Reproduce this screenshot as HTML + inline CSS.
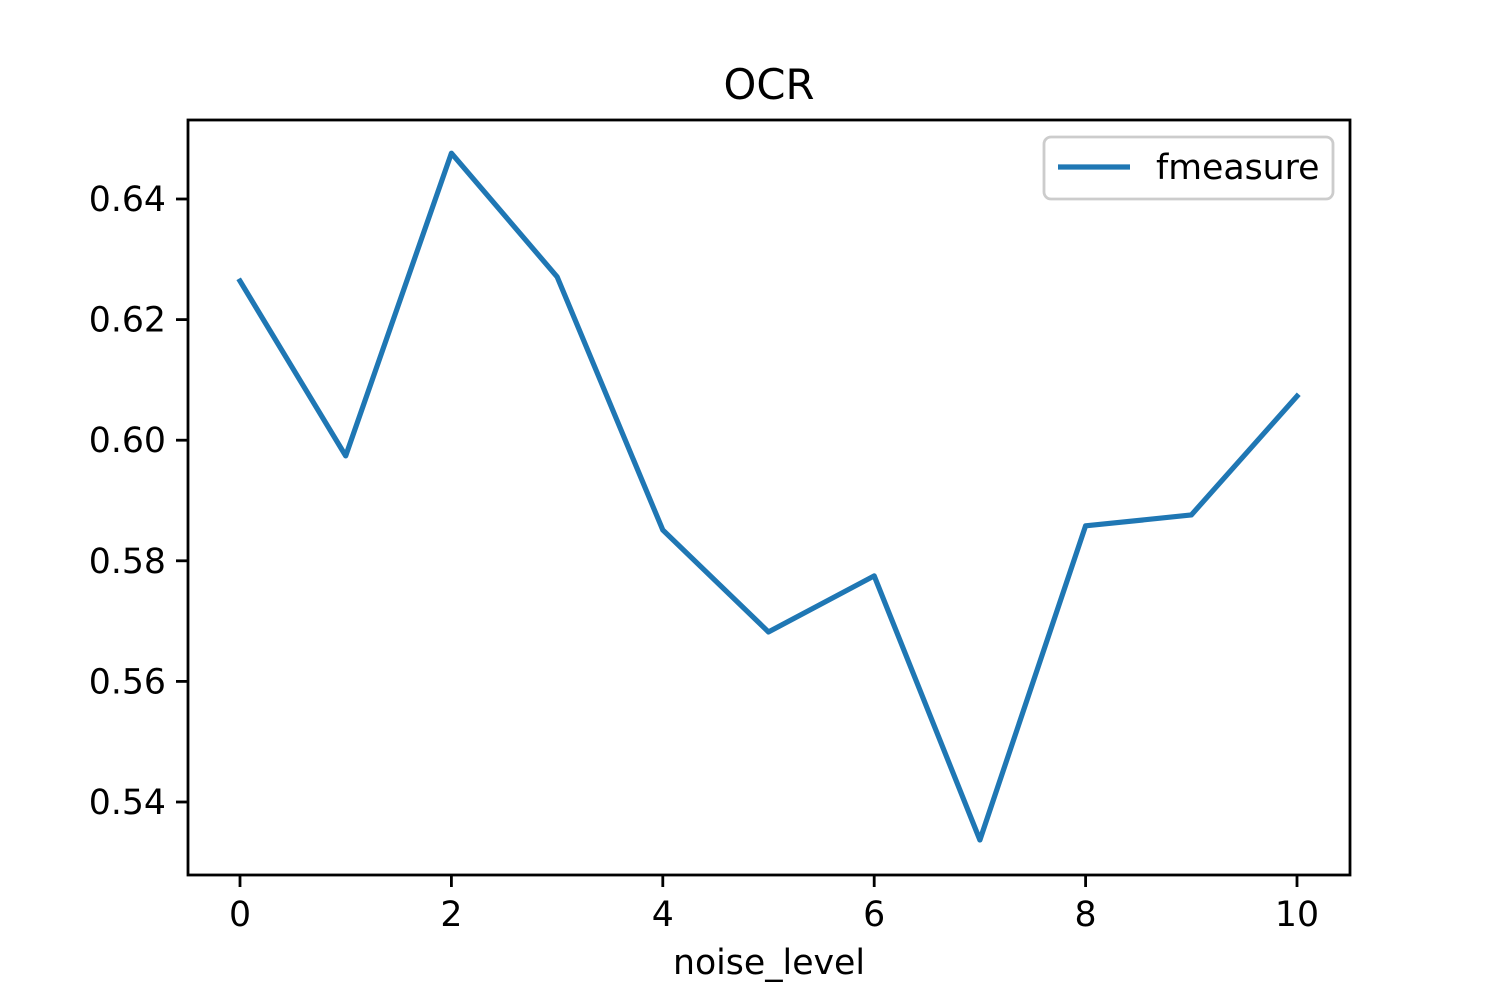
<!DOCTYPE html>
<html><head><meta charset="utf-8"><style>
html,body{margin:0;padding:0;background:#fff;}
svg text{font-family:"DejaVu Sans","Liberation Sans",sans-serif;fill:#000;}
</style></head><body>
<svg id="chart" width="1500" height="1000" viewBox="0 0 1500 1000">
<rect x="0" y="0" width="1500" height="1000" fill="#fff"/>
<g id="ticks"></g>
<path id="series" fill="none" stroke="#1f77b4" stroke-width="5.2" stroke-linejoin="round" stroke-linecap="square"/>
<rect x="188" y="120" width="1162" height="755" fill="none" stroke="#000" stroke-width="2.8"/>
<text x="769" y="99" font-size="41.7" text-anchor="middle">OCR</text>
<text x="769" y="974" font-size="34.7" text-anchor="middle">noise_level</text>
<g>
<rect x="1044" y="137" width="289" height="62" rx="7" fill="#fff" fill-opacity="0.8" stroke="#ccc" stroke-width="2.8"/>
<line x1="1058" y1="167" x2="1130" y2="167" stroke="#1f77b4" stroke-width="5.2"/>
<text x="1156" y="179" font-size="34.7">fmeasure</text>
</g>
</svg>
<script>
const xValues=[0,1,2,3,4,5,6,7,8,9,10];
const fmeasure=[0.6264,0.5974,0.6476,0.6271,0.5851,0.5682,0.5775,0.5337,0.5858,0.5876,0.6073];
const xTicks=[0,2,4,6,8,10];
const yTicks=[0.54,0.56,0.58,0.60,0.62,0.64];
const yTickLabels=["0.54","0.56","0.58","0.60","0.62","0.64"];
function xs(v){return 240+v*105.7;}
function ys(v){return 802-(v-0.54)/0.02*120.6;}
const NS="http://www.w3.org/2000/svg";
const g=document.getElementById('ticks');
xTicks.forEach(t=>{
 const l=document.createElementNS(NS,'line');
 l.setAttribute('x1',xs(t));l.setAttribute('x2',xs(t));l.setAttribute('y1',875);l.setAttribute('y2',887);
 l.setAttribute('stroke','#000');l.setAttribute('stroke-width','2.8');
 
 
 g.appendChild(l);
 const tx=document.createElementNS(NS,'text');
 tx.setAttribute('x',xs(t));tx.setAttribute('y',926);tx.setAttribute('font-size','34.7');tx.setAttribute('text-anchor','middle');
 tx.textContent=String(t);
 
 
 g.appendChild(tx);
});
yTicks.forEach((t,i)=>{
 const l=document.createElementNS(NS,'line');
 l.setAttribute('x1',176);l.setAttribute('x2',188);l.setAttribute('y1',ys(t));l.setAttribute('y2',ys(t));
 l.setAttribute('stroke','#000');l.setAttribute('stroke-width','2.8');
 
 
 g.appendChild(l);
 const tx=document.createElementNS(NS,'text');
 tx.setAttribute('x',166);tx.setAttribute('y',ys(t)+12);tx.setAttribute('font-size','34.7');tx.setAttribute('text-anchor','end');
 tx.textContent=yTickLabels[i];
 
 
 g.appendChild(tx);
});
document.getElementById('series').setAttribute('d',fmeasure.map((v,i)=>(i?'L':'M')+xs(xValues[i])+' '+ys(v)).join(' '));
</script>
</body></html>
